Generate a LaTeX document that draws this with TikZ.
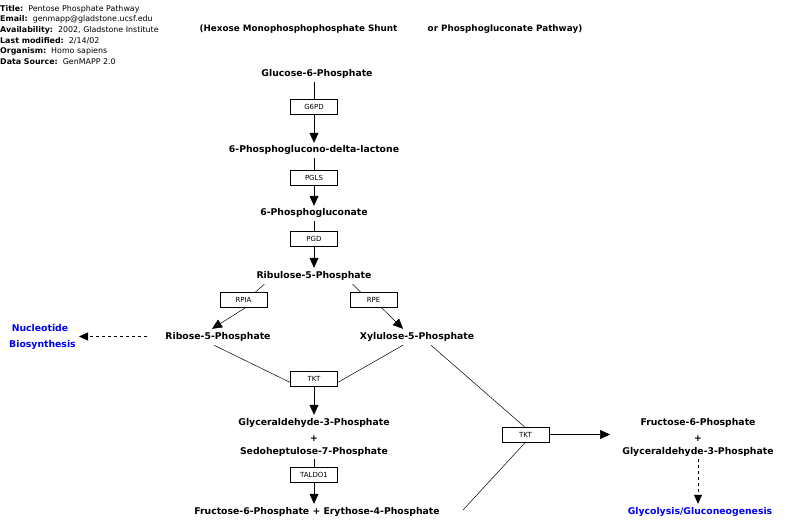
\documentclass[tikz,border=0pt]{standalone}
\usepackage{fontspec}
\setmainfont{DejaVu Sans}
\usetikzlibrary{arrows.meta}
\definecolor{linkblue}{RGB}{0,0,240}
\begin{document}
\begin{tikzpicture}[x=1pt,y=-1pt,
  lbl/.style={font=\bfseries\fontsize{9.3}{11}\selectfont, inner sep=3pt, text height=7pt, text depth=2pt, yshift=-1.5pt},
  hdr/.style={font=\fontsize{7.9}{9}\selectfont, anchor=west, inner sep=0pt},
  ttl/.style={font=\bfseries\fontsize{8.8}{10}\selectfont, inner sep=0pt},
  gene/.style={draw, thin, minimum width=47pt, minimum height=15pt, inner sep=0pt, font=\fontsize{7}{8}\selectfont},
  link/.style={lbl, text=linkblue},
  conn/.style={draw, line width=0.5pt},
  arr/.style={conn, -{Triangle[length=10pt,width=9pt]}},
  darr/.style={conn, dashed, -{Triangle[length=9pt,width=8pt]}}
]
\useasboundingbox (0,0) rectangle (800,529);
% header
\node[hdr] (h1) at (0,9) {\textbf{Title:}\ \ Pentose Phosphate Pathway};
\node[hdr] (h2) at (0,19.5) {\textbf{Email:}\ \ genmapp@gladstone.ucsf.edu};
\node[hdr] (h3) at (0,30.5) {\textbf{Availability:}\ \ 2002, Gladstone Institute};
\node[hdr] (h4) at (0,41) {\textbf{Last modified:}\ \ 2/14/02};
\node[hdr] (h5) at (0,51.5) {\textbf{Organism:}\ \ Homo sapiens};
\node[hdr] (h6) at (0,62) {\textbf{Data Source:}\ \ GenMAPP 2.0};
\node[ttl] (t1) at (298.5,29.5) {(Hexose Monophosphophosphate Shunt};
\node[ttl] (t2) at (505,29.5) {or Phosphogluconate Pathway)};
% main chain
\node[lbl] (g6p) at (317,73) {Glucose-6-Phosphate};
\node[gene] (g6pd) at (314,106.5) {G6PD};
\node[lbl] (pgl) at (314,149) {6-Phosphoglucono-delta-lactone};
\node[gene] (pgls) at (314,177.5) {PGLS};
\node[lbl] (pg) at (314,212) {6-Phosphogluconate};
\node[gene] (pgd) at (314,238.5) {PGD};
\node[lbl] (ru5p) at (314,274) {Ribulose-5-Phosphate};
\node[gene] (rpia) at (243.5,300) {RPIA};
\node[gene] (rpe) at (373.5,300) {RPE};
\node[lbl] (r5p) at (218,335) {Ribose-5-Phosphate};
\node[lbl] (x5p) at (417,335) {Xylulose-5-Phosphate};
\node[link] (nuc1) at (40,327) {Nucleotide};
\node[link] (nuc2) at (42.5,343) {Biosynthesis};
\node[gene] (tkt) at (314,378.5) {TKT};
\node[lbl] (ga3p) at (314,421) {Glyceraldehyde-3-Phosphate};
\node[lbl] (plus1) at (314,437) {+};
\node[lbl] (s7p) at (314,450) {Sedoheptulose-7-Phosphate};
\node[gene] (taldo) at (314,475) {TALDO1};
\node[lbl] (fe) at (317,510) {Fructose-6-Phosphate + Erythose-4-Phosphate};
\node[gene] (tkt2) at (525.5,434.5) {TKT};
\node[lbl] (f6p2) at (698,421) {Fructose-6-Phosphate};
\node[lbl] (plus2) at (698,437) {+};
\node[lbl] (ga3p2) at (698,450) {Glyceraldehyde-3-Phosphate};
\node[link] (glyc) at (700,510) {Glycolysis/Gluconeogenesis};
\coordinate (tktend) at (610,434.5);
\coordinate (feend) at (463,510);
\coordinate (nucend) at (79,335);
% connectors
\draw[conn] (g6p.south -| g6pd.north) -- (g6pd.north);
\draw[arr] (g6pd.south) -- (pgl.north);
\draw[conn] (pgl.south) -- (pgls.north);
\draw[arr] (pgls.south) -- (pg.north);
\draw[conn] (pg.south) -- (pgd.north);
\draw[arr] (pgd.south) -- (ru5p.north);
\draw[conn] ([xshift=11pt,yshift=-1pt]ru5p.south west) -- ([xshift=-12pt]rpia.north east);
\draw[arr] ([xshift=2pt]rpia.south) -- ([xshift=-6pt]r5p.north);
\draw[conn] ([xshift=-22pt,yshift=-1pt]ru5p.south east) -- ([xshift=11pt]rpe.north west);
\draw[arr] ([xshift=8pt]rpe.south) -- ([xshift=-14pt]x5p.north);
\draw[darr] ([xshift=-15pt]r5p.west) -- (nucend |- r5p.west);
\draw[conn] ([xshift=-4pt,yshift=-1pt]r5p.south) -- ([yshift=-4pt]tkt.west);
\draw[conn] ([xshift=-14pt,yshift=-1pt]x5p.south) -- ([yshift=-4pt]tkt.east);
\draw[arr] (tkt.south) -- (ga3p.north);
\draw[conn] (s7p.south) -- (taldo.north);
\draw[arr] (taldo.south) -- (fe.north -| taldo.south);
\draw[conn] ([xshift=14pt,yshift=-1pt]x5p.south) -- ([xshift=-1pt]tkt2.north);
\draw[conn] (feend) -- (tkt2.south);
\draw[arr] (tkt2.east) -- (tktend);
\draw[darr] (ga3p2.south) -- (glyc.north -| ga3p2.south);
\end{tikzpicture}
\end{document}
